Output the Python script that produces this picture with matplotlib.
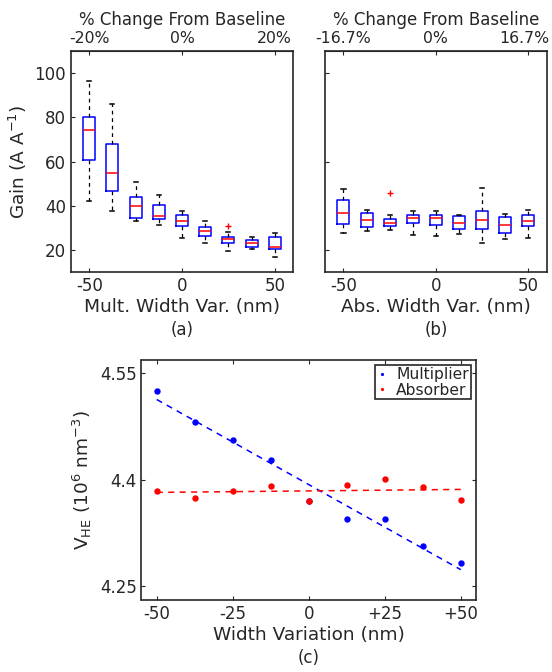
import matplotlib
matplotlib.use('Agg')
from matplotlib import pyplot as plt
from matplotlib import transforms
import numpy as np

# width variation of each simulated device (nm)
positions = [-50, -37.5, -25, -12.5, 0, 12.5, 25, 37.5, 50]

# (a) gain vs multiplier width
mult_lo = [42.1, 37.6, 33.2, 31.4, 25.4, 23.2, 19.6, 20.6, 16.9]
mult_q1 = [60.8, 46.6, 34.6, 34.0, 31.0, 26.5, 23.1, 21.5, 20.5]
mult_med = [74.2, 54.8, 39.9, 35.5, 33.0, 28.7, 25.0, 23.1, 21.5]
mult_q3 = [80.0, 68.0, 44.1, 40.5, 35.7, 30.4, 25.8, 24.5, 25.9]
mult_hi = [96.4, 86.0, 50.7, 45.0, 37.9, 33.0, 28.2, 26.0, 27.6]
mult_out = [[], [], [], [], [], [], [31.0], [], []]

# (b) gain vs absorber width
abs_lo = [28.0, 28.9, 29.2, 27.1, 26.3, 27.2, 23.5, 25.3, 25.6]
abs_q1 = [31.9, 30.3, 31.0, 32.1, 31.5, 29.8, 29.5, 27.6, 31.0]
abs_med = [36.8, 33.6, 32.5, 34.5, 34.6, 32.3, 33.5, 31.3, 33.1]
abs_q3 = [42.7, 37.0, 34.3, 36.0, 36.1, 35.5, 37.8, 34.9, 35.8]
abs_hi = [47.8, 38.4, 36.1, 37.6, 37.6, 36.1, 48.3, 36.6, 38.1]
abs_out = [[], [], [46.0], [], [], [], [], [], []]

# (c) high-field volume
vhe_mult = [4.525, 4.481, 4.4558, 4.4277, 4.3705, 4.3442, 4.3451, 4.3062, 4.2823]
vhe_abs = [4.3845, 4.3737, 4.3836, 4.3911, 4.3705, 4.392, 4.4009, 4.3892, 4.3719]

dark = '#262626'
plt.rcParams['font.family'] = ['DejaVu Sans']
plt.rcParams['font.size'] = 12
plt.rcParams['axes.edgecolor'] = dark
plt.rcParams['xtick.color'] = dark
plt.rcParams['ytick.color'] = dark
plt.rcParams['text.color'] = dark
plt.rcParams['axes.labelcolor'] = dark
plt.rcParams['axes.labelsize'] = 13.3
plt.rcParams['xtick.direction'] = 'in'
plt.rcParams['ytick.direction'] = 'in'
plt.rcParams['xtick.major.size'] = 3
plt.rcParams['ytick.major.size'] = 3


def box_panel(ax, lo, q1, med, q3, hi, out, top_labels):
    stats = []
    for i in range(len(positions)):
        stats.append({'whislo': lo[i], 'q1': q1[i], 'med': med[i], 'q3': q3[i],
                      'whishi': hi[i], 'fliers': out[i]})
    ax.bxp(stats, positions=positions, widths=6.5, capwidths=2.2,
           showfliers=True, manage_ticks=False,
           boxprops=dict(color='blue', linewidth=1.1),
           medianprops=dict(color='red', linewidth=1.1),
           whiskerprops=dict(color='black', linestyle=(0, (3, 3)), linewidth=0.9),
           capprops=dict(color='black', linewidth=1.1),
           flierprops=dict(marker='+', markeredgecolor='red', markersize=5,
                           linestyle='none'))
    ax.set_xlim(-60, 60)
    ax.set_ylim(10, 110)
    ax.set_xticks([-50, 0, 50])
    ax.set_xticklabels(['-50', '0', '50'])
    top = ax.secondary_xaxis('top')
    top.set_xticks([-50, 0, 50])
    top.set_xticklabels(top_labels, fontsize=11.3)
    top.tick_params(direction='in', length=3)
    top.set_xlabel('% Change From Baseline', fontsize=12)
    for s in ax.spines.values():
        s.set_linewidth(1.2)
    return top


fig = plt.figure(figsize=(5.52, 6.72), dpi=100)
W, H = 552.0, 672.0

ax_a = fig.add_axes([70.7 / W, 1 - 272.5 / H, 222.6 / W, 221.8 / H])
box_panel(ax_a, mult_lo, mult_q1, mult_med, mult_q3, mult_hi, mult_out,
          ['-20%', '0%', '20%'])
ax_a.set_yticks([20, 40, 60, 80, 100])
ax_a.set_ylabel('Gain (A A$^{-1}$)')
ax_a.set_xlabel('Mult. Width Var. (nm)', labelpad=2)

ax_b = fig.add_axes([325.0 / W, 1 - 272.5 / H, 221.7 / W, 221.8 / H])
top_b = box_panel(ax_b, abs_lo, abs_q1, abs_med, abs_q3, abs_hi, abs_out,
                  ['-16.7%', '0%', '16.7%'])
ax_b.set_yticks([20, 60, 100])
ax_b.set_yticklabels([])
ax_b.set_xlabel('Abs. Width Var. (nm)', labelpad=2)
# the right-most top label sits a little left so it stays inside the figure
last = top_b.get_xticklabels()[-1]
last.set_transform(last.get_transform() +
                   transforms.ScaledTranslation(-4 / 100, 0, fig.dpi_scale_trans))

# (c) scatter with linear fits
ax_c = fig.add_axes([141.5 / W, 1 - 600.0 / H, 334.5 / W, 240.0 / H])
x = np.array(positions)
ax_c.plot(x, vhe_mult, 'o', color='blue', markersize=4.6, markeredgewidth=0,
          label='Multiplier')
ax_c.plot(x, vhe_abs, 'o', color='red', markersize=4.6, markeredgewidth=0,
          label='Absorber')
for vals, c in [(vhe_mult, 'blue'), (vhe_abs, 'red')]:
    p = np.polyfit(x, vals, 1)
    xs = np.array([-50, 50])
    ax_c.plot(xs, np.polyval(p, xs), color=c, linestyle=(0, (4, 3.5)),
              linewidth=1.1)
ax_c.set_xlim(-55, 55)
ax_c.set_ylim(4.2303, 4.5688)
ax_c.set_xticks([-50, -25, 0, 25, 50])
ax_c.set_xticklabels(['-50', '-25', '0', '+25', '+50'])
ax_c.set_yticks([4.25, 4.4, 4.55])
ax_c.set_yticklabels(['4.25', '4.4', '4.55'])
ax_c.tick_params(top=True, right=True)
for s in ax_c.spines.values():
    s.set_linewidth(1.2)
ax_c.set_xlabel('Width Variation (nm)', labelpad=2)
ax_c.set_ylabel('V$_{\\mathrm{HE}}$ (10$^6$ nm$^{-3}$)')
leg = ax_c.legend(loc='upper right', fancybox=False, framealpha=1,
                  edgecolor=dark, markerscale=0.5, handlelength=0.8,
                  handletextpad=0.5, borderpad=0.1, labelspacing=0.05,
                  borderaxespad=0.35, fontsize=11.2)
leg.get_frame().set_linewidth(1.2)

# panel letters under the x labels
fig.text(182 / W, 1 - 330 / H, '(a)', ha='center', va='center', fontsize=12)
fig.text(436 / W, 1 - 330 / H, '(b)', ha='center', va='center', fontsize=12)
fig.text(309 / W, 1 - 658 / H, '(c)', ha='center', va='center', fontsize=12)

fig.savefig('out.png', dpi=100)
